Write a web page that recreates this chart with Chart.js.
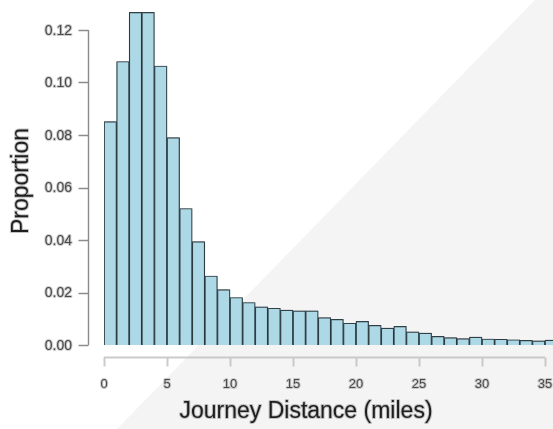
<!DOCTYPE html>
<html>
<head>
<meta charset="utf-8">
<script src="https://cdn.jsdelivr.net/npm/chart.js@4/dist/chart.umd.min.js"></script>
<style>
  html, body { margin: 0; padding: 0; background: #ffffff; overflow: hidden; }
  #wrap { width: 553px; height: 429px; position: relative; }
</style>
</head>
<body>
<div id="wrap"><canvas id="c" width="553" height="429"></canvas></div>
<script>
// Histogram bins: left edge of each 1-mile bin
const binLeft = [0,1,2,3,4,5,6,7,8,9,10,11,12,13,14,15,16,17,18,19,20,21,22,23,24,25,26,27,28,29,30,31,32,33,34,35];
// Proportion of journeys in each bin
const proportion = [0.0851,0.1080,0.1267,0.1267,0.1063,0.0790,0.0520,0.0394,0.0263,0.0211,0.0181,0.0162,0.0145,0.0140,0.0133,0.0130,0.0130,0.0104,0.0098,0.0083,0.0090,0.0075,0.0064,0.0071,0.0050,0.0045,0.0033,0.0028,0.0024,0.0030,0.0023,0.0022,0.0020,0.0018,0.0016,0.0019];
const xTicks = [0,5,10,15,20,25,30,35];
const yTicks = [0.00,0.02,0.04,0.06,0.08,0.10,0.12];
const xTitle = "Journey Distance (miles)";
const yTitle = "Proportion";

const bgPlugin = {
  id: 'bg',
  beforeDraw(chart) {
    const ctx = chart.ctx, W = chart.width, H = chart.height;
    ctx.save();
    ctx.fillStyle = '#ffffff';
    ctx.fillRect(0, 0, W, H);
    ctx.fillStyle = '#f4f4f4';
    ctx.beginPath();
    ctx.moveTo(535, 0);
    ctx.lineTo(W, 0);
    ctx.lineTo(W, H);
    ctx.lineTo(117, H);
    ctx.closePath();
    ctx.fill();
    ctx.restore();
  },
  beforeDatasetsDraw(chart) {
    const ctx = chart.ctx;
    ctx.save();
    ctx.shadowColor = 'rgba(0,0,0,0.4)';
    ctx.shadowBlur = 3;
  },
  afterDatasetsDraw(chart) {
    chart.ctx.restore();
  }
};

function haloText(ctx, txt, x, y, halo, fill, lw) {
  ctx.lineJoin = 'round';
  ctx.strokeStyle = halo;
  ctx.lineWidth = lw;
  ctx.strokeText(txt, x, y);
  ctx.fillStyle = fill;
  ctx.fillText(txt, x, y);
}

const axesPlugin = {
  id: 'rAxes',
  afterDraw(chart) {
    const ctx = chart.ctx;
    const xs = chart.scales.x, ys = chart.scales.y;
    const axisColor = '#8c8c8c';
    ctx.save();
    // Y axis (detached, R style)
    const yAxisX = 88.5;
    const y0 = ys.getPixelForValue(yTicks[0]);
    const y1 = ys.getPixelForValue(yTicks[yTicks.length - 1]);
    ctx.strokeStyle = axisColor;
    ctx.lineWidth = 1.4;
    ctx.beginPath();
    ctx.moveTo(yAxisX, y0);
    ctx.lineTo(yAxisX, y1);
    yTicks.forEach(v => {
      const py = Math.round(ys.getPixelForValue(v)) + 0.5;
      ctx.moveTo(yAxisX, py);
      ctx.lineTo(yAxisX - 10, py);
    });
    ctx.stroke();
    ctx.font = '14px "Liberation Sans", Arial, sans-serif';
    ctx.textAlign = 'right';
    ctx.textBaseline = 'middle';
    yTicks.forEach(v => {
      const py = ys.getPixelForValue(v);
      haloText(ctx, v.toFixed(2), 72, py + 1, 'rgba(190,190,190,0.8)', '#4a4a4a', 2);
    });
    // X axis (detached)
    const xAxisY = 357.5;
    const x0 = xs.getPixelForValue(xTicks[0]);
    const x1 = xs.getPixelForValue(xTicks[xTicks.length - 1]);
    ctx.beginPath();
    ctx.moveTo(x0, xAxisY);
    ctx.lineTo(x1, xAxisY);
    xTicks.forEach(v => {
      const px = Math.round(xs.getPixelForValue(v)) + 0.5;
      ctx.moveTo(px, xAxisY);
      ctx.lineTo(px, xAxisY + 9);
    });
    ctx.stroke();
    ctx.font = '13px "Liberation Sans", Arial, sans-serif';
    ctx.textAlign = 'center';
    ctx.textBaseline = 'middle';
    xTicks.forEach(v => {
      const px = xs.getPixelForValue(v);
      haloText(ctx, String(v), px, 384, 'rgba(190,190,190,0.8)', '#4a4a4a', 2);
    });
    // Titles
    ctx.font = '23px "Liberation Sans", Arial, sans-serif';
    ctx.textAlign = 'center';
    ctx.textBaseline = 'middle';
    haloText(ctx, xTitle, 306, 412, 'rgba(170,170,170,0.7)', '#1e1e1e', 2);
    ctx.save();
    ctx.translate(22, 181);
    ctx.rotate(-Math.PI / 2);
    haloText(ctx, yTitle, 0, 0, 'rgba(170,170,170,0.7)', '#1e1e1e', 2);
    ctx.restore();
    ctx.restore();
  }
};

const pxPerMile = 12.6;
const leftPx = 104;
const xMax = (553 - leftPx) / pxPerMile;
const pxPerUnitY = 2625;
const bottomPx = 345;
const yMax = 0.13;

new Chart(document.getElementById('c'), {
  type: 'bar',
  data: {
    datasets: [{
      data: binLeft.map((b, i) => ({ x: b + 0.5, y: proportion[i] })),
      backgroundColor: '#add8e6',
      borderColor: '#34464d',
      borderWidth: 1.2,
      barPercentage: 1.0,
      categoryPercentage: 1.0,
      borderSkipped: 'bottom'
    }]
  },
  options: {
    responsive: false,
    animation: false,
    events: [],
    layout: {
      padding: {
        left: leftPx,
        right: 553 - leftPx - xMax * pxPerMile,
        top: bottomPx - yMax * pxPerUnitY,
        bottom: 429 - bottomPx
      }
    },
    plugins: { legend: { display: false }, tooltip: { enabled: false } },
    scales: {
      x: { type: 'linear', min: 0, max: xMax, offset: false, display: false },
      y: { type: 'linear', min: 0, max: yMax, display: false }
    }
  },
  plugins: [bgPlugin, axesPlugin]
});
</script>
</body>
</html>
